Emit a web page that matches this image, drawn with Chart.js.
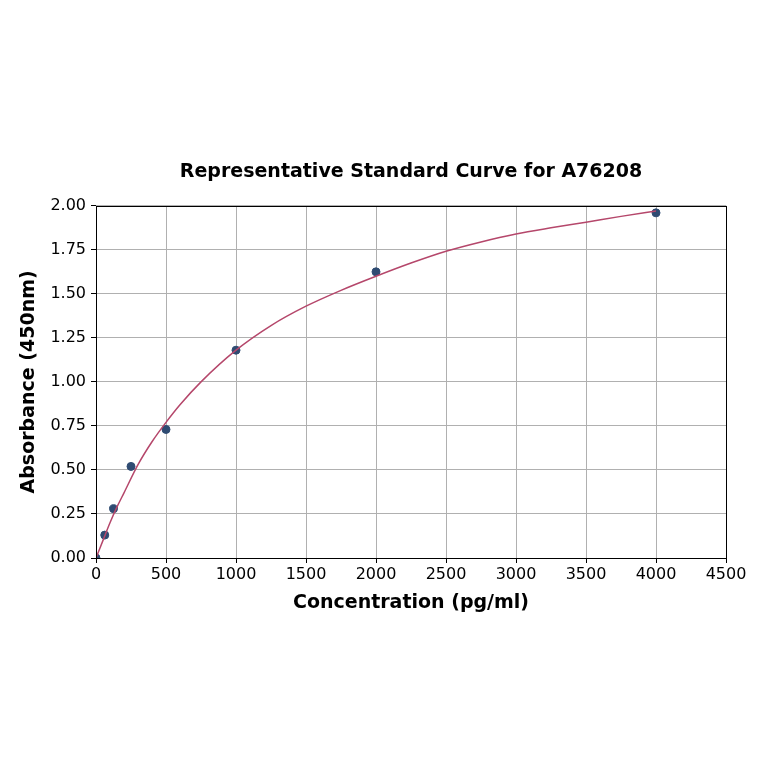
<!DOCTYPE html>
<html>
<head>
<meta charset="utf-8">
<script src="https://cdn.jsdelivr.net/npm/chart.js@4/dist/chart.umd.min.js"></script>
<style>
  html, body { margin: 0; padding: 0; background: #ffffff; }
  #wrap { width: 764px; height: 764px; }
</style>
</head>
<body>
<div id="wrap"><canvas id="c" width="764" height="764"></canvas></div>
<script>
// Standard points
const concentrations = [0, 62.5, 125, 250, 500, 1000, 2000, 4000];
const absorbances = [0.0, 0.13, 0.28, 0.52, 0.73, 1.18, 1.625, 1.96];

// Fitted curve
const curveX = [0, 50, 100, 150, 200, 300, 400, 500, 600, 750, 1000, 1250, 1500, 1750, 2000, 2250, 2500, 2750, 3000, 3250, 3500, 3750, 4000];
const curveY = [0, 0.10, 0.20, 0.29, 0.37, 0.53, 0.66, 0.77, 0.87, 1.00, 1.18, 1.32, 1.43, 1.52, 1.60, 1.675, 1.742, 1.795, 1.84, 1.875, 1.907, 1.94, 1.97];

const xTicks = [0, 500, 1000, 1500, 2000, 2500, 3000, 3500, 4000, 4500];
const yTicks = [0, 0.25, 0.5, 0.75, 1.0, 1.25, 1.5, 1.75, 2.0];

const titleText = 'Representative Standard Curve for A76208';
const xTitle = 'Concentration (pg/ml)';
const yTitle = 'Absorbance (450nm)';

const FONT = 'DejaVu Sans';

const frame = {
  id: 'frame',
  afterDatasetsDraw(chart) {
    const a = chart.chartArea, ctx = chart.ctx;
    ctx.save();
    ctx.strokeStyle = '#000000';
    ctx.lineWidth = 1;
    ctx.strokeRect(Math.round(a.left) + 0.5, Math.round(a.top) + 0.5,
                   Math.round(a.right - a.left), Math.round(a.bottom - a.top));
    ctx.restore();
  }
};

new Chart(document.getElementById('c'), {
  type: 'scatter',
  data: {
    datasets: [
      {
        type: 'line',
        data: curveX.map((x, i) => ({x: x, y: curveY[i]})),
        borderColor: '#b5476b',
        borderWidth: 1.5,
        pointRadius: 0,
        fill: false,
        cubicInterpolationMode: 'monotone'
      },
      {
        type: 'scatter',
        data: concentrations.map((x, i) => ({x: x, y: absorbances[i]})),
        backgroundColor: '#2f4b72',
        borderColor: '#2f4b72',
        pointRadius: 4,
        pointHoverRadius: 4
      }
    ]
  },
  options: {
    responsive: false,
    devicePixelRatio: 1,
    animation: false,
    layout: { padding: { left: 14, right: 38, top: 0, bottom: 146 } },
    plugins: {
      legend: { display: false },
      tooltip: { enabled: false },
      title: {
        display: true,
        fullSize: false,
        text: titleText,
        color: '#000000',
        font: { family: FONT, size: 19, weight: 'bold' },
        padding: { top: 161, bottom: 22 }
      }
    },
    scales: {
      x: {
        type: 'linear',
        min: 0, max: 4500,
        afterBuildTicks(s) { s.ticks = xTicks.map(v => ({value: v})); },
        afterFit(s) { s.height = 60; },
        grid: { color: '#b0b0b0', lineWidth: 1, drawTicks: true, tickLength: 5, tickColor: '#000000' },
        border: { display: false },
        ticks: { color: '#000000', font: { family: FONT, size: 16 }, padding: 2, maxRotation: 0,
                 callback: v => String(v) },
        title: { display: true, text: xTitle, color: '#000000',
                 font: { family: FONT, size: 19, weight: 'bold' } }
      },
      y: {
        type: 'linear',
        min: 0, max: 2.0,
        afterBuildTicks(s) { s.ticks = yTicks.map(v => ({value: v})); },
        afterFit(s) { s.width = 82; },
        grid: { color: '#b0b0b0', lineWidth: 1, drawTicks: true, tickLength: 5, tickColor: '#000000' },
        border: { display: false },
        ticks: { color: '#000000', font: { family: FONT, size: 16 }, padding: 5,
                 callback: v => Number(v).toFixed(2) },
        title: { display: true, text: yTitle, color: '#000000',
                 font: { family: FONT, size: 19, weight: 'bold' } }
      }
    }
  },
  plugins: [frame]
});
</script>
</body>
</html>
